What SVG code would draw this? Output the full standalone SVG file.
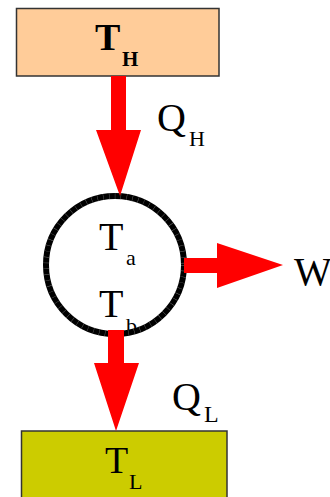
<svg xmlns="http://www.w3.org/2000/svg" width="330" height="497" viewBox="0 0 330 497">
<style>
.t{font-family:"Liberation Serif","Times New Roman",serif;fill:#000}
.box{stroke:#333;stroke-width:1.5}
.arr{fill:#ff0000}
</style>
<rect width="330" height="497" fill="#fff"/>
<g id="hot">
<rect class="box" x="16.5" y="8.5" width="202.5" height="67.5" fill="#ffcc99"/>
<text class="t" x="95" y="50" font-size="38" font-weight="bold">T</text>
<text class="t" x="122" y="66" font-size="21" font-weight="bold">H</text>
</g>
<g id="cold">
<rect class="box" x="21.5" y="431" width="205.5" height="80" fill="#cccc00"/>
<text class="t" x="105" y="473" font-size="38">T</text>
<text class="t" x="129" y="489" font-size="22">L</text>
</g>
<g id="engine">
<text class="t" x="99" y="250" font-size="40">T</text>
<text class="t" x="126" y="265" font-size="22">a</text>
<text class="t" x="99" y="317" font-size="40">T</text>
<text class="t" x="126" y="333" font-size="22">b</text>
<circle cx="115" cy="265" r="69" fill="none" stroke="#000" stroke-width="6"/>
<circle cx="115" cy="265" r="69" fill="none" stroke="#777" stroke-width="6" stroke-dasharray="0.4 5.5"/>
</g>
<g id="connectors">
<polygon class="arr" points="111,76 126,76 126,130 141,130 120,196 96,130 111,130"/>
<polygon class="arr" points="184,258 217,258 217,243 283,265 217,288 217,273 184,273"/>
<polygon class="arr" points="108,330 124,330 124,363 139,363 116,431 94,363 108,363"/>
</g>
<g id="labels">
<text class="t" x="157" y="131" font-size="40">Q</text>
<text class="t" x="189" y="146" font-size="22">H</text>
<text class="t" x="294" y="285" font-size="40">W</text>
<text class="t" x="172" y="410" font-size="40">Q</text>
<text class="t" x="204" y="422" font-size="24">L</text>
</g>
</svg>
